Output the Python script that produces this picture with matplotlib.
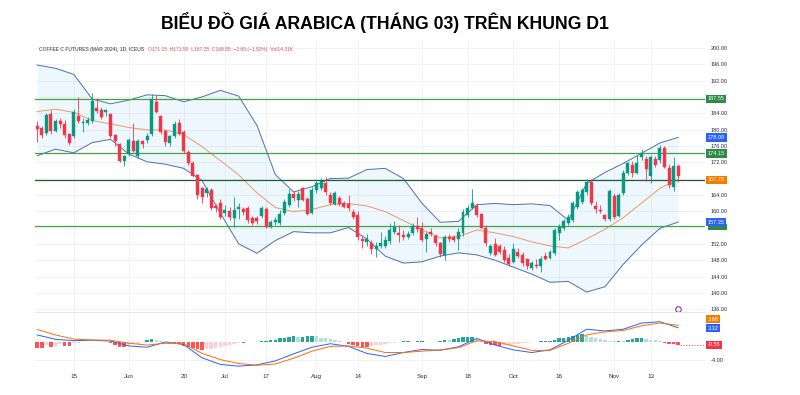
import matplotlib
matplotlib.use("Agg")
import matplotlib.pyplot as plt
import matplotlib.transforms as mtransforms

# ---- candles (daily, May 3 -> Nov 21, 2023) ----
opens = [180.9, 180.5, 179.2, 183.7, 179.7, 182.1, 181.4, 178.9, 178.3, 183.2,
         181.6, 181.7, 182.1, 185.4, 184.8, 184.3, 183.7, 178.6, 176.4, 172.4,
         173.9, 177.1, 173.6, 177.1, 177.5, 178.9, 186.8, 183.2, 179.7, 176.6,
         178.3, 181.5, 179.5, 174.6, 171.9, 168.9, 165.6, 164.5, 165.2, 161.3,
         162.1, 159.6, 160.1, 158.3, 160.5, 160.5, 160.7, 158.3, 158.3, 158.8,
         160.5, 156.2, 157.4, 157.0, 159.5, 161.5, 164.1, 162.7, 165.6, 162.9,
         159.6, 165.3, 165.8, 166.8, 164.0, 161.8, 163.2, 161.9, 161.8, 159.9,
         159.1, 153.3, 152.5, 152.1, 150.7, 151.5, 151.5, 152.8, 155.0, 154.7,
         154.2, 153.8, 154.6, 156.4, 155.8, 153.1, 155.0, 153.9, 152.1, 149.3,
         153.8, 153.6, 153.1, 154.6, 159.1, 160.9, 161.3, 159.3, 156.0, 149.8,
         152.0, 151.4, 150.5, 148.5, 147.5, 150.0, 149.3, 148.2, 146.2, 146.9,
         146.6, 149.1, 148.5, 149.7, 154.6, 156.0, 157.0, 157.8, 161.0, 162.3,
         164.7, 167.1, 161.3, 160.4, 159.0, 158.0, 163.7, 158.9, 164.5, 169.3,
         171.3, 169.4, 173.2, 172.7, 168.6, 172.7, 172.5, 175.4, 170.7, 166.0,
         171.15]
highs = [182.1, 180.9, 184.0, 184.8, 182.5, 182.9, 182.3, 179.2, 185.0, 187.9,
         182.8, 183.0, 188.9, 187.7, 185.5, 185.0, 184.0, 179.0, 176.8, 173.8,
         178.0, 181.5, 177.8, 177.5, 179.2, 188.8, 188.5, 183.6, 180.0, 178.7,
         182.0, 182.5, 180.0, 175.0, 172.3, 169.2, 166.0, 166.0, 165.8, 161.8,
         163.0, 161.5, 161.0, 163.5, 162.0, 161.0, 161.3, 158.8, 158.8, 161.3,
         161.0, 157.8, 158.5, 160.3, 163.0, 165.5, 165.0, 165.0, 166.0, 163.5,
         166.0, 167.8, 168.1, 168.5, 164.8, 165.0, 163.8, 162.5, 164.0, 160.5,
         160.0, 154.2, 154.5, 153.0, 152.5, 155.0, 154.0, 157.0, 157.5, 156.5,
         155.5, 155.2, 157.0, 158.5, 157.3, 155.0, 156.0, 154.5, 152.5, 154.2,
         154.3, 154.2, 156.0, 160.5, 161.5, 165.5, 162.0, 159.6, 156.5, 152.0,
         153.4, 152.0, 151.5, 149.5, 152.3, 151.0, 150.0, 148.5, 147.8, 148.3,
         149.0, 150.0, 150.5, 155.8, 156.8, 158.2, 159.2, 162.5, 165.2, 165.6,
         168.0, 168.0, 162.5, 161.5, 159.4, 165.5, 164.5, 164.5, 170.0, 172.0,
         172.2, 173.8, 175.3, 173.5, 173.8, 173.5, 176.3, 176.0, 171.5, 173.2,
         171.5]
lows = [177.0, 177.9, 178.7, 178.9, 179.3, 180.5, 178.0, 176.2, 178.0, 181.5,
        179.5, 181.0, 181.6, 184.1, 182.5, 183.2, 178.0, 176.0, 172.0, 171.1,
        173.5, 174.5, 173.0, 175.5, 176.8, 178.5, 184.0, 179.0, 176.0, 176.0,
        178.0, 178.6, 174.3, 171.3, 168.3, 163.0, 162.0, 163.5, 160.3, 159.8,
        158.0, 158.8, 157.8, 156.2, 158.0, 159.0, 157.2, 156.5, 156.8, 158.3,
        155.8, 155.9, 156.5, 156.5, 159.0, 161.0, 162.5, 161.1, 162.5, 159.0,
        159.2, 164.5, 165.2, 164.0, 161.5, 161.5, 161.3, 160.8, 160.0, 158.0,
        153.0, 150.9, 151.5, 149.5, 148.9, 151.0, 151.0, 152.0, 154.5, 152.5,
        153.0, 153.2, 154.2, 155.0, 152.5, 150.0, 154.0, 151.5, 148.9, 148.0,
        152.5, 152.5, 150.5, 154.0, 158.5, 160.5, 158.5, 155.8, 151.5, 149.3,
        149.0, 149.5, 147.5, 146.5, 147.2, 148.5, 146.5, 145.8, 145.5, 146.0,
        145.2, 148.0, 148.2, 149.3, 153.0, 155.5, 156.5, 157.3, 160.5, 161.8,
        164.0, 161.5, 159.5, 159.5, 157.7, 157.7, 158.2, 158.5, 164.0, 168.8,
        168.5, 169.0, 172.5, 167.5, 166.8, 170.8, 171.8, 170.5, 165.8, 165.0,
        167.25]
closes = [180.2, 178.7, 183.5, 179.7, 182.1, 181.4, 178.7, 176.8, 184.4, 182.1,
          181.9, 182.3, 187.1, 184.6, 183.0, 184.8, 178.4, 177.1, 172.4, 173.4,
          177.4, 174.8, 177.2, 176.4, 178.5, 187.4, 184.4, 179.5, 177.0, 178.3,
          181.3, 178.9, 174.8, 171.7, 168.7, 164.0, 163.6, 165.4, 160.9, 160.7,
          158.5, 160.3, 158.5, 160.3, 161.0, 159.9, 157.8, 157.0, 157.7, 160.9,
          156.2, 157.3, 157.9, 159.3, 162.3, 164.1, 163.2, 164.2, 162.8, 159.3,
          165.3, 166.8, 167.5, 164.8, 161.9, 164.4, 161.8, 161.1, 160.7, 158.7,
          153.8, 152.8, 153.3, 150.7, 151.5, 152.3, 152.9, 155.4, 156.2, 154.2,
          153.8, 154.4, 156.4, 155.6, 152.9, 154.4, 154.4, 152.1, 149.4, 153.8,
          153.1, 152.9, 155.0, 159.9, 160.7, 162.1, 159.1, 156.0, 152.2, 151.5,
          149.2, 150.1, 148.0, 147.0, 150.8, 149.0, 147.2, 146.6, 147.2, 146.5,
          148.4, 148.4, 150.0, 155.3, 156.2, 157.7, 158.7, 162.0, 164.6, 165.1,
          167.1, 161.9, 160.6, 160.1, 158.2, 164.9, 158.7, 164.0, 169.3, 171.7,
          169.3, 171.9, 174.2, 170.3, 173.2, 171.3, 175.4, 170.9, 166.4, 171.1,
          168.55]

# Bollinger bands, read every 4th bar
bb_bars = list(range(0, 141, 4))
bb_upper = [195.8, 195.0, 193.5, 187.5, 186.3, 187.2, 188.5, 188.3, 186.8, 188.0,
            189.6, 188.2, 181.0, 169.0, 164.7, 166.0, 168.0, 168.1, 170.2, 170.5,
            168.0, 162.0, 157.3, 157.5, 161.6, 161.9, 161.6, 161.8, 161.4, 157.8,
            166.8, 169.5, 171.7, 174.2, 176.7, 178.09]
bb_basis = [184.4, 185.0, 184.2, 182.2, 181.4, 180.5, 179.9, 179.9, 178.8, 175.8,
            172.4, 168.9, 164.5, 160.9, 159.9, 160.4, 161.6, 161.9, 161.3, 159.9,
            157.7, 155.5, 153.5, 153.8, 155.4, 154.7, 153.8, 152.5, 151.5, 151.0,
            153.2, 155.6, 158.4, 162.0, 165.6, 167.7]
bb_lower = [173.6, 175.2, 174.3, 176.8, 177.6, 174.0, 172.1, 171.5, 170.5, 167.5,
            159.5, 152.0, 149.7, 152.8, 155.0, 154.7, 154.7, 156.0, 153.2, 149.0,
            147.3, 147.6, 149.0, 149.8, 149.3, 148.0, 146.3, 144.6, 142.6, 142.8,
            140.2, 141.5, 147.0, 151.7, 155.8, 157.35]

# MACD / signal, read every 4th bar; histogram per bar
macd_line = [1.7, 0.7, 0.4, 0.5, 0.3, -0.8, -1.1, 0.1, -0.5, -3.5,
             -5.0, -5.4, -5.1, -4.2, -2.6, -1.1, -0.3, -0.9, -2.5, -3.2,
             -2.3, -1.6, -1.8, -1.0, 0.9, -0.6, -1.7, -2.3, -1.7, 0.5,
             3.0, 2.6, 3.0, 4.4, 4.7, 3.32]
signal_line = [2.95, 1.7, 0.75, 0.55, 0.5, -0.2, -0.6, -0.2, -0.3, -2.5,
               -3.9, -4.8, -5.2, -4.9, -3.6, -2.0, -0.9, -0.8, -1.3, -2.3,
               -2.3, -2.0, -1.7, -1.2, 0.37, 0.2, -0.8, -1.8, -1.8, -0.2,
               1.7, 2.4, 2.7, 3.8, 4.4, 3.88]
hist = [-1.2, -1.2, -0.5, -1.0, -0.9, -0.3, -0.8, -0.8, -0.2, -0.1,
        0.0, 0.1, 0.2, 0.2, 0.1, 0.0, -0.2, -0.7, -1.0, -1.1,
        -0.6, -0.4, -0.3, 0.2, 0.6, 0.8, 0.5, 0.3, 0.2, 0.1,
        -0.1, -0.3, -0.9, -1.1, -1.3, -1.5, -1.7, -1.6, -1.4, -1.2,
        -1.0, -0.8, -0.6, -0.3, -0.1, -0.1, 0.0, 0.1, 0.2, 0.3,
        0.4, 0.5, 0.6, 0.9, 1.1, 1.3, 1.4, 1.2, 1.3, 1.5,
        1.5, 1.4, 1.1, 0.9, 0.7, 0.5, 0.3, 0.1, -0.3, -0.7,
        -0.9, -1.0, -1.0, -0.9, -0.7, -0.5, -0.4, -0.2, -0.1, 0.2,
        0.3, 0.3, 0.2, 0.3, 0.3, 0.2, 0.1, 0.2, 0.4, 0.6,
        0.5, 0.7, 0.9, 1.2, 1.3, 1.3, 0.8, 0.3, -0.4, -0.6,
        -0.7, -0.8, -0.7, -0.5, -0.4, -0.3, -0.2, -0.1, 0.1, 0.2,
        0.3, 0.3, 0.4, 0.6, 0.9, 1.1, 1.3, 1.5, 1.7, 1.8,
        1.5, 1.2, 0.9, 0.7, 0.5, 0.4, 0.3, 0.4, 0.3, 0.5,
        0.7, 0.9, 0.9, 0.7, 0.6, 0.5, 0.3, -0.1, -0.3, -0.4,
        -0.55]

# horizontal levels drawn on the chart
levels = [187.55, 174.15, 167.70, 156.30]
level_colors = ["#43a047", "#43a047", "#1f5f35", "#43a047"]

# time axis
date_ticks = [8, 20, 32, 41, 50, 61, 70, 84, 94, 104, 114, 126, 134]
date_labels = ["15", "Jun", "20", "Jul", "17", "Aug", "14", "Sep", "18", "Oct",
               "16", "Nov", "13"]
price_ticks = list(range(136, 201, 4))
hidden_ticks = [188, 168, 156]   # covered by the price tags

UP, DOWN = "#089981", "#f23645"
GRID = "#eef0f4"

plt.rcParams["font.family"] = ["Liberation Sans", "DejaVu Sans"]

fig = plt.figure(figsize=(8, 3.95), dpi=100)
ax = fig.add_axes([0.044, 0.21, 0.8375, 0.689])
ax2 = fig.add_axes([0.044, 0.063, 0.8375, 0.147], sharex=ax)

fig.text(0.481, 0.944, "BIỂU ĐỒ GIÁ ARABICA (THÁNG 03) TRÊN KHUNG D1",
         ha="center", va="center", fontsize=12.7, fontweight="bold")

xs = list(range(len(closes)))

# Bollinger bands
ax.fill_between(bb_bars, bb_lower, bb_upper, color="#2196f3", alpha=0.07, lw=0, zorder=1)
ax.plot(bb_bars, bb_upper, color="#4a6fb5", lw=0.7, zorder=2)
ax.plot(bb_bars, bb_lower, color="#4a6fb5", lw=0.7, zorder=2)
ax.plot(bb_bars, bb_basis, color="#e89a62", lw=0.7, zorder=2)

# levels
for lv, col in zip(levels, level_colors):
    ax.axhline(lv, color=col, lw=0.9, zorder=3)

# candles
for i in xs:
    o, h, l, c = opens[i], highs[i], lows[i], closes[i]
    col = UP if c >= o else DOWN
    ax.vlines(i, l, h, color=col, lw=0.6, zorder=4)
    ax.bar(i, max(abs(c - o), 0.25), bottom=min(o, c), width=0.65,
           color=col, edgecolor=col, lw=0.3, zorder=5)

ax.set_xlim(-0.44, 145.9)
ax.set_ylim(135.3, 201.96)
ax.set_yticks(price_ticks)
ax.set_yticklabels(["" if p in hidden_ticks else f"{p:.2f}" for p in price_ticks])
ax.yaxis.tick_right()
ax.tick_params(axis="y", length=0, pad=4, labelsize=4, labelcolor="#2a2e39")
ax.tick_params(axis="x", length=0, labelbottom=False)
ax.set_xticks(date_ticks)
ax.grid(True, color=GRID, lw=0.6)
ax.set_axisbelow(True)
for s in ax.spines.values():
    s.set_visible(False)

# header line
head = ax.text(0.005, 0.975, "COFFEE C FUTURES (MAR 2024), 1D, ICEUS", transform=ax.transAxes,
               fontsize=3.6, color="#2a2e39", va="top", ha="left")
ax.annotate("O171.15  H171.50  L167.25  C168.55  −2.60 (−1.52%)  Vol14.31K",
            xy=(1, 0), xycoords=head, xytext=(3, 0), textcoords="offset points",
            fontsize=3.6, color="#e0505a", va="bottom", ha="left")

tr = mtransforms.blended_transform_factory(ax.transAxes, ax.transData)


def price_tag(axis, trans, val, text, color, z=10):
    axis.text(1.004, val, text, transform=trans, fontsize=4, color="white",
              va="center", ha="left", clip_on=False, zorder=z,
              bbox=dict(boxstyle="square,pad=0.3", fc=color, ec="none"))


price_tag(ax, tr, 187.55, "187.55", "#2e8b46")
price_tag(ax, tr, 178.09, "178.09", "#2962ff")
price_tag(ax, tr, 174.15, "174.15", "#2e8b46")
price_tag(ax, tr, 167.70, "167.70", "#f57c00")
price_tag(ax, tr, 157.35, "157.35", "#2962ff")
# green tag of the lowest level, mostly hidden under the blue one
ax.add_patch(plt.Rectangle((1.004, 155.3), 0.0285, 1.6, transform=tr, clip_on=False,
                           fc="#2e8b46", ec="none", zorder=9))

# small alert icon
ax.plot([140], [136.0], marker="o", ms=4, mfc="white", mec="#9c27b0", mew=0.8, zorder=6)

# MACD pane
hist_colors = []
for i, h in enumerate(hist):
    prev = hist[i - 1] if i > 0 else h
    if h >= 0:
        hist_colors.append("#26a69a" if h >= prev else "#b2dfdb")
    else:
        hist_colors.append("#ff5252" if h <= prev else "#ffcdd2")
ax2.bar(xs, hist, width=0.75, color=hist_colors, zorder=3)
ax2.plot(bb_bars, macd_line, color="#2962ff", lw=0.7, zorder=4)
ax2.plot(bb_bars, signal_line, color="#ff6d00", lw=0.7, zorder=4)
ax2.plot([140.5, 145.9], [hist[-1], hist[-1]], color="#f23645", lw=0.5, ls=(0, (2, 2)), zorder=2)
ax2.set_ylim(-6.3, 6.9)
ax2.set_yticks([-4])
ax2.set_yticklabels(["-4.00"])
ax2.yaxis.tick_right()
ax2.tick_params(axis="y", length=0, pad=4, labelsize=4, labelcolor="#2a2e39")
ax2.set_xticks(date_ticks)
ax2.set_xticklabels(date_labels)
ax2.tick_params(axis="x", length=0, pad=3, labelsize=4.5, labelcolor="#2a2e39")
ax2.grid(True, color=GRID, lw=0.6)
ax2.set_axisbelow(True)
for s in ax2.spines.values():
    s.set_visible(False)
ax2.spines["top"].set_visible(True)
ax2.spines["top"].set_color("#e0e3eb")
ax2.spines["top"].set_linewidth(0.6)

tr2 = mtransforms.blended_transform_factory(ax2.transAxes, ax2.transData)
price_tag(ax2, tr2, 5.3, "3.88", "#f57c00")
price_tag(ax2, tr2, 3.2, "3.32", "#2962ff")
price_tag(ax2, tr2, -0.55, "-0.55", "#f23645")

fig.savefig("out.png", dpi=100, facecolor="white")
